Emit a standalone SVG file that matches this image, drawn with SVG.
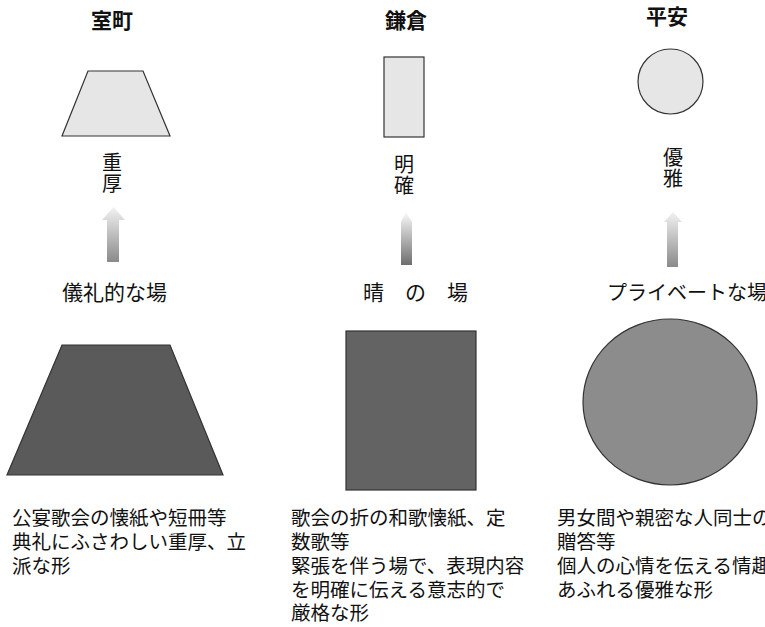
<svg xmlns="http://www.w3.org/2000/svg" width="765" height="627" viewBox="0 0 765 627">
<style>
text{font-family:"Noto Sans CJK JP","Noto Sans CJK SC",sans-serif;fill:#111}
.title{font-size:21px;font-weight:bold;text-anchor:middle}
.vert{font-size:20px;writing-mode:vertical-rl;letter-spacing:1px}
.lab{font-size:21px}
.body{font-size:19.5px}
.small{fill:#e6e6e6;stroke:#333;stroke-width:1.2}
.big{stroke:#333;stroke-width:1.2}
</style>
<defs>
<linearGradient id="ag" x1="0" y1="0" x2="0" y2="1">
<stop offset="0" stop-color="#f2f2f2"/>
<stop offset="1" stop-color="#8a8a8a"/>
</linearGradient>
<linearGradient id="ag2" x1="0" y1="0" x2="0" y2="1">
<stop offset="0" stop-color="#fafafa"/>
<stop offset="1" stop-color="#6e6e6e"/>
</linearGradient>
</defs>
<rect width="765" height="627" fill="#fff"/>

<g id="muromachi">
<text class="title" x="112" y="28">室町</text>
<polygon class="small" points="88,71 143,71 170,136 62,136"/>
<text class="vert" x="112" y="152">重厚</text>
<text class="lab" x="62" y="300">儀礼的な場</text>
<polygon class="big" fill="#5a5a5a" points="62,345 170,345 223,475 7,475"/>
<text class="body" x="12" y="525">公宴歌会の懐紙や短冊等</text>
<text class="body" x="12" y="549">典礼にふさわしい重厚、立</text>
<text class="body" x="12" y="573">派な形</text>
</g>

<g id="kamakura">
<text class="title" x="406" y="28">鎌倉</text>
<rect class="small" x="384" y="57" width="40" height="80"/>
<text class="vert" x="404" y="154">明確</text>
<text class="lab" x="363" y="300">晴　の　場</text>
<rect class="big" fill="#636363" x="346" y="331" width="130" height="159"/>
<text class="body" x="291" y="525">歌会の折の和歌懐紙、定</text>
<text class="body" x="291" y="549">数歌等</text>
<text class="body" x="291" y="573">緊張を伴う場で、表現内容</text>
<text class="body" x="291" y="596.5">を明確に伝える意志的で</text>
<text class="body" x="291" y="620">厳格な形</text>
</g>

<g id="heian">
<text class="title" x="667" y="24">平安</text>
<circle class="small" cx="670.5" cy="81.5" r="32.5"/>
<text class="vert" x="673" y="147">優雅</text>
<text class="lab" x="607" y="300" style="font-size:20px">プライベートな場</text>
<ellipse class="big" fill="#8c8c8c" cx="670" cy="402" rx="87" ry="83"/>
<text class="body" x="557" y="525">男女間や親密な人同士の</text>
<text class="body" x="557" y="549">贈答等</text>
<text class="body" x="557" y="573">個人の心情を伝える情趣</text>
<text class="body" x="557" y="596.5">あふれる優雅な形</text>
</g>

<g id="connectors">
<polygon fill="url(#ag)" points="113.5,207 125,220 119,220 119,262 107,262 107,220 102,220"/>
<polygon fill="url(#ag2)" points="406,212 412,222 412,265 401,265 401,222"/>
<polygon fill="url(#ag)" points="673,212 682,222 678,222 678,267 667,267 667,222 664,222"/>
</g>
</svg>
